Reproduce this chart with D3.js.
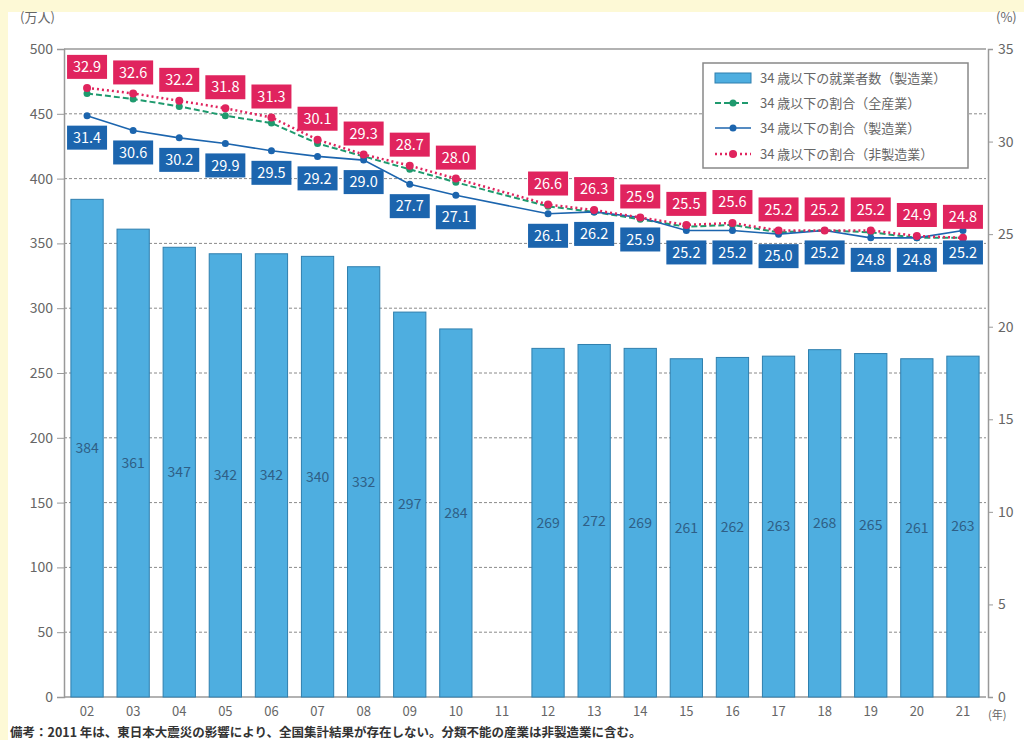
<!DOCTYPE html>
<html><head><meta charset="utf-8">
<script src="https://cdn.jsdelivr.net/npm/d3@7"></script>
<style>
html,body{margin:0;padding:0;background:#fdf9d6;}
svg{display:block;font-family:"Noto Sans CJK JP","Noto Sans",sans-serif;}
</style></head>
<body>
<svg id="c" width="1024" height="740"></svg>
<script>
const years = ["02","03","04","05","06","07","08","09","10","11","12","13","14","15","16","17","18","19","20","21"];
const workers = [384,361,347,342,342,340,332,297,284,null,269,272,269,261,262,263,268,265,261,263];
const shareAll = [32.6,32.3,31.9,31.4,31.0,29.9,29.2,28.5,27.8,null,26.5,26.2,25.8,25.4,25.5,25.1,25.2,25.1,24.8,24.8];
const shareMfg = [31.4,30.6,30.2,29.9,29.5,29.2,29.0,27.7,27.1,null,26.1,26.2,25.9,25.2,25.2,25.0,25.2,24.8,24.8,25.2];
const shareNonMfg = [32.9,32.6,32.2,31.8,31.3,30.1,29.3,28.7,28.0,null,26.6,26.3,25.9,25.5,25.6,25.2,25.2,25.2,24.9,24.8];
const leftTicks = [0,50,100,150,200,250,300,350,400,450,500];
const rightTicks = [0,5,10,15,20,25,30,35];
const legendLabels = ["34 歳以下の就業者数（製造業）","34 歳以下の割合（全産業）","34 歳以下の割合（製造業）","34 歳以下の割合（非製造業）"];
const footnote = "備考：2011 年は、東日本大震災の影響により、全国集計結果が存在しない。分類不能の産業は非製造業に含む。";

const svg = d3.select("#c");
const L = 64, R = 986, T = 49, B = 697;
const C = {bar:"#4eaee0", barStroke:"#2f7fae", green:"#1f9a6e", blue:"#1c65ae", red:"#e0245e", axis:"#999", text:"#666"};

// white panel
svg.append("rect").attr("x",8).attr("y",12).attr("width",1016).attr("height",728).attr("fill","#fff");

const x = d3.scaleBand().domain(years).range([L,R]).paddingInner(0.3).paddingOuter(0.15);
const yL = d3.scaleLinear().domain([0,500]).range([B,T]);
const yR = d3.scaleLinear().domain([0,35]).range([B,T]);
const cx = d => x(d) + x.bandwidth()/2;

// gridlines
svg.append("g").selectAll("line").data(leftTicks.filter(t=>t>0 && t<500)).join("line")
  .attr("x1",L).attr("x2",R).attr("y1",d=>yL(d)).attr("y2",d=>yL(d))
  .attr("stroke","#8a8a8a").attr("stroke-width",1).attr("stroke-dasharray","3,2");
svg.append("line").attr("x1",L).attr("x2",R).attr("y1",T).attr("y2",T).attr("stroke",C.axis).attr("stroke-width",1.5);

// axes
const gL = svg.append("g").attr("transform",`translate(${L},0)`)
  .call(d3.axisLeft(yL).tickValues(leftTicks).tickSize(7).tickPadding(4));
const gR = svg.append("g").attr("transform",`translate(${R+2},0)`)
  .call(d3.axisRight(yR).tickValues(rightTicks).tickSize(5).tickPadding(5));
const gB = svg.append("g").attr("transform",`translate(0,${B})`)
  .call(d3.axisBottom(x).tickSize(0).tickPadding(10));
[gL,gR,gB].forEach(g=>{
  g.selectAll(".domain").attr("stroke",C.axis).attr("stroke-width",1.5);
  g.selectAll(".tick line").attr("stroke",C.axis);
  g.selectAll("text").attr("fill",C.text).attr("font-size",14).attr("font-family","Noto Sans CJK JP");
});
gB.selectAll("text").attr("font-size",13);
gB.select(".domain").attr("d",`M${L},0H${R}`);

// units
svg.append("text").attr("x",20).attr("y",22).attr("font-size",13).attr("fill",C.text).text("(万人)");
svg.append("text").attr("x",996).attr("y",22).attr("font-size",13).attr("fill",C.text).text("(%)");
svg.append("text").attr("x",988).attr("y",719).attr("font-size",11).attr("fill",C.text).text("(年)");

// bars
const barData = years.map((y,i)=>({y, v:workers[i]})).filter(d=>d.v!=null);
svg.append("g").selectAll("rect").data(barData).join("rect")
  .attr("x",d=>x(d.y)).attr("width",x.bandwidth())
  .attr("y",d=>yL(d.v)).attr("height",d=>B-yL(d.v))
  .attr("fill",C.bar).attr("stroke",C.barStroke).attr("stroke-width",1);
svg.append("g").selectAll("text").data(barData).join("text")
  .attr("x",d=>cx(d.y)).attr("y",d=>yL(d.v/2)).attr("dy","0.35em")
  .attr("text-anchor","middle").attr("font-size",14).attr("fill","#2f5f86").text(d=>d.v);

// lines
function series(vals){ return years.map((y,i)=>({y, v:vals[i]})).filter(d=>d.v!=null); }
const line = d3.line().x(d=>cx(d.y)).y(d=>yR(d.v));
const sets = [
  {vals:shareAll, color:C.green, dash:"6,3", w:2, r:3.5},
  {vals:shareMfg, color:C.blue, dash:null, w:1.6, r:3.5},
  {vals:shareNonMfg, color:C.red, dash:"2,3", w:2.5, r:4}
];
sets.forEach(s=>{
  const d = series(s.vals);
  svg.append("path").datum(d).attr("d",line).attr("fill","none")
    .attr("stroke",s.color).attr("stroke-width",s.w).attr("stroke-dasharray",s.dash);
  svg.append("g").selectAll("circle").data(d).join("circle")
    .attr("cx",p=>cx(p.y)).attr("cy",p=>yR(p.v)).attr("r",s.r).attr("fill",s.color);
});

// value boxes
function boxes(vals,color,off){
  const d = series(vals);
  const g = svg.append("g").selectAll("g").data(d).join("g")
    .attr("transform",p=>`translate(${cx(p.y)},${yR(p.v)+off})`);
  g.append("rect").attr("x",-20).attr("y",-12).attr("width",40).attr("height",24).attr("fill",color);
  g.append("text").attr("text-anchor","middle").attr("dy","0.36em").attr("font-size",14.5)
    .attr("fill","#fff").text(p=>p.v.toFixed(1));
}
boxes(shareNonMfg,C.red,-21);
boxes(shareMfg,C.blue,22);

// legend
const lg = svg.append("g").attr("transform","translate(703,63)");
lg.append("rect").attr("width",265).attr("height",105).attr("fill","#fff").attr("stroke","#888").attr("stroke-width",1.5);
const rowY = [15,40,65,91];
lg.append("rect").attr("x",12).attr("y",rowY[0]-5).attr("width",36).attr("height",10)
  .attr("fill",C.bar).attr("stroke",C.barStroke);
[[C.green,"6,3",2,3.5],[C.blue,null,1.6,3.5],[C.red,"2,3",2.5,4]].forEach((s,i)=>{
  const yy = rowY[i+1];
  lg.append("line").attr("x1",12).attr("x2",48).attr("y1",yy).attr("y2",yy)
    .attr("stroke",s[0]).attr("stroke-width",s[2]).attr("stroke-dasharray",s[1]);
  lg.append("circle").attr("cx",30).attr("cy",yy).attr("r",s[3]).attr("fill",s[0]);
});
lg.selectAll("text.l").data(legendLabels).join("text").attr("class","l")
  .attr("x",57).attr("y",(d,i)=>rowY[i]).attr("dy","0.35em")
  .attr("font-size",13).attr("fill",C.text).text(d=>d);

// footnote
svg.append("text").attr("x",10).attr("y",737).attr("font-size",12.5).attr("font-weight","bold")
  .attr("fill","#333").text(footnote);
</script>
</body></html>
